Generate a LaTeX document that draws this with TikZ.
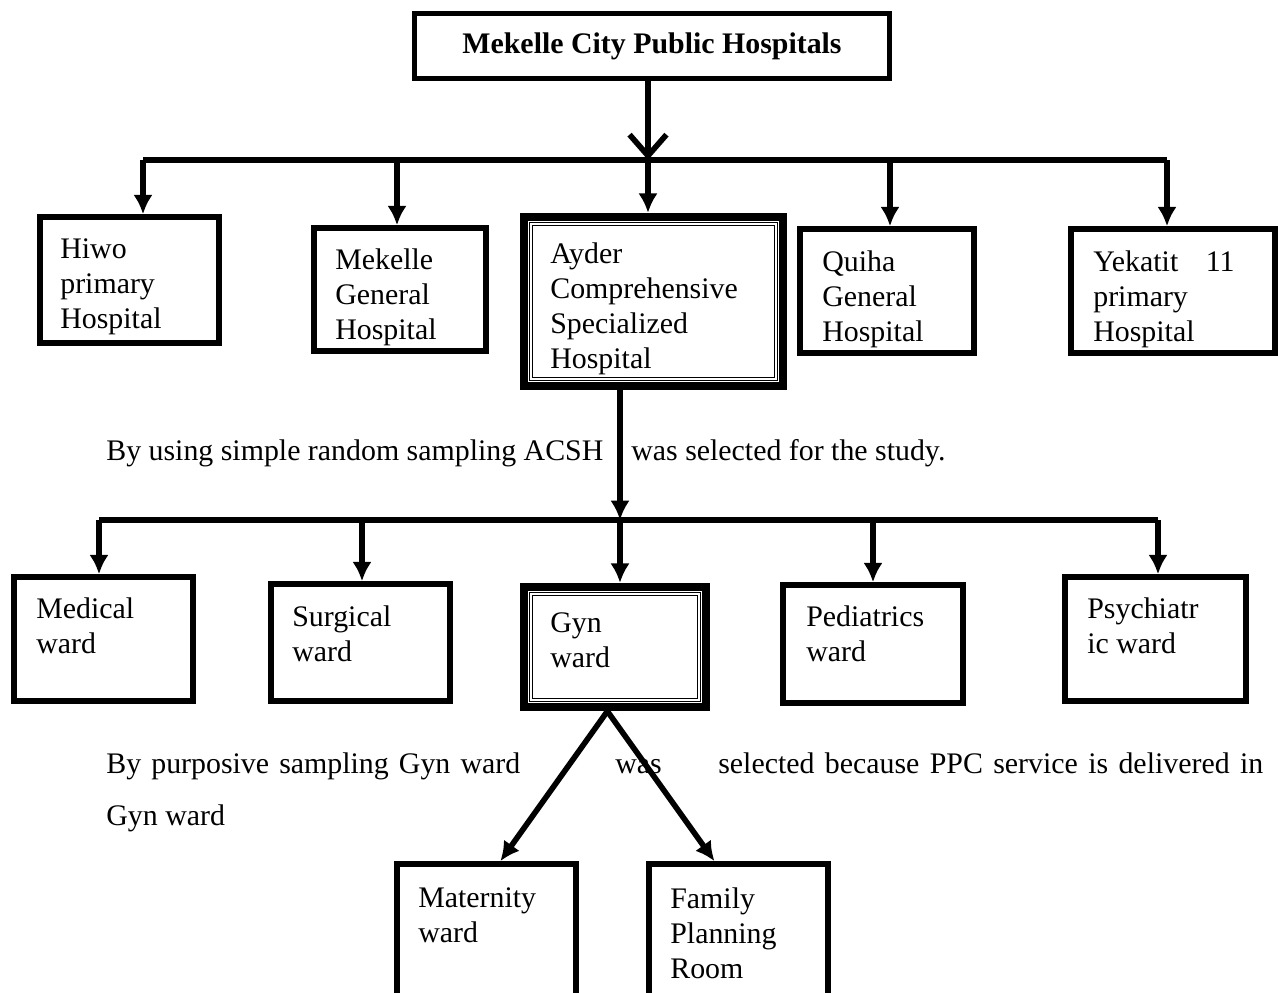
\documentclass[tikz,border=0pt]{standalone}
\usepackage{fontspec}
\setmainfont{Liberation Serif}
\usetikzlibrary{arrows.meta,fit,calc}

\begin{document}
\begin{tikzpicture}[x=0.02cm, y=-0.02cm,
    box/.style={draw, line width=3.2pt, rectangle, inner sep=0pt},
    dbox/.style={draw, line width=4.8pt, rectangle, inner sep=0pt},
    dline/.style={draw, double, line width=0.7pt, double distance=1.1pt, rectangle, inner sep=0pt},
    txt/.style={inner sep=0pt, anchor=north west, align=left, font=\fontsize{17}{20}\selectfont},
    para/.style={inner sep=0pt, anchor=base west, font=\fontsize{17}{20}\selectfont},
    hline/.style={line width=3.2pt},
    arr/.style={line width=3.2pt, -{Latex[length=11pt,width=11pt]}}]
                    \useasboundingbox (0,0) rectangle (1278,992);

                    \node[box, minimum width=9.5cm, minimum height=1.3cm, font=\bfseries\fontsize{17}{20}\selectfont] (A) at (652,46) {Mekelle City Public Hospitals};

                    \node[box, fit={(40,217) (219,343)}] (B) {};
                    \node[box, fit={(314,228) (486,351)}] (C) {};
                    \node[dbox, fit={(524,217) (783,386)}] (D) {};
                    \node[dline, fit={(531,224) (776,379)}] (D1) {};
                    \node[box, fit={(800,229) (974,353)}] (E) {};
                    \node[box, fit={(1071,229) (1275,353)}] (F) {};

                    \node[txt] (Bt) at (60,238) {Hiwo\\primary\\Hospital};
                    \node[txt] (Ct) at (335,248) {Mekelle\\General\\Hospital};
                    \node[txt] (Dt) at (550,242) {Ayder\\Comprehensive\\Specialized\\Hospital};
                    \node[txt] (Et) at (822,250) {Quiha\\General\\Hospital};
                    \node[txt] (Ft) at (1093,250) {Yekatit\hspace{0.55cm}11\\primary\\Hospital};

                    \coordinate (m1) at (648,160);
                    \coordinate (b1) at (143,160);
                    \coordinate (c1) at (397,160);
                    \coordinate (e1) at (890,160);
                    \coordinate (f1) at (1167,160);

                    \draw[line width=3.2pt, -{Straight Barb[length=12pt,width=21pt]}] (A.south -| m1) -- (m1);
                    \draw[hline] (b1) -- (f1);
                    \draw[arr] (b1) -- (b1 |- B.north);
                    \draw[arr] (c1) -- (c1 |- C.north);
                    \draw[arr] (m1) -- (m1 |- D.north);
                    \draw[arr] (e1) -- (e1 |- E.north);
                    \draw[arr] (f1) -- (f1 |- F.north);

                    \node[para] (P1) at (106,460) {By using simple random sampling ACSH};
                    \node[para] (P2) at (631,460) {was selected for the study.};

                    \node[box, fit={(14,577) (193,701)}] (G) {};
                    \node[box, fit={(271,584) (450,701)}] (H) {};
                    \node[dbox, fit={(524,587) (706,707)}] (I) {};
                    \node[dline, fit={(531,594) (699,700)}] (I1) {};
                    \node[box, fit={(783,585) (963,703)}] (J) {};
                    \node[box, fit={(1065,577) (1246,701)}] (K) {};

                    \node[txt] (Gt) at (36,597) {Medical\\ward};
                    \node[txt] (Ht) at (292,605) {Surgical\\ward};
                    \node[txt] (It) at (550,612) {Gyn\\ward};
                    \node[txt] (Jt) at (806,605) {Pediatrics\\ward};
                    \node[txt] (Kt) at (1087,597) {Psychiatr\\ic ward};

                    \coordinate (m2) at (620,520);
                    \coordinate (g1) at (99,520);
                    \coordinate (h1) at (362,520);
                    \coordinate (j1) at (873,520);
                    \coordinate (k1) at (1158,520);

                    \draw[arr] (m2 |- D.south) -- (m2);
                    \draw[hline] (g1) -- (k1);
                    \draw[arr] (g1) -- (g1 |- G.north);
                    \draw[arr] (h1) -- (h1 |- H.north);
                    \draw[arr] (m2) -- (m2 |- I.north);
                    \draw[arr] (j1) -- (j1 |- J.north);
                    \draw[arr] (k1) -- (k1 |- K.north);

                    \node[para] (P3) at (106,773) {\makebox[8.28cm][s]{By purposive sampling Gyn ward}};
                    \node[para] (P4) at (615,773) {was};
                    \node[para] (P5) at (718,773) {\makebox[10.9cm][s]{selected because PPC service is delivered in}};
                    \node[para] (P6) at (106,825) {Gyn ward};

                    \node[box, fit={(397,864) (576,1010)}] (L) {};
                    \node[box, fit={(649,864) (828,1010)}] (M) {};
                    \node[txt] (Lt) at (418,887) {Maternity\\ward};
                    \node[txt] (Mt) at (670,887) {Family\\Planning\\Room};

                    \draw[arr] ($(I.south west)!0.46!(I.south east)$) -- ($(L.north west)!0.575!(L.north east)$);
                    \draw[arr] ($(I.south west)!0.46!(I.south east)$) -- ($(M.north west)!0.37!(M.north east)$);
                \end{tikzpicture}
\end{document}
